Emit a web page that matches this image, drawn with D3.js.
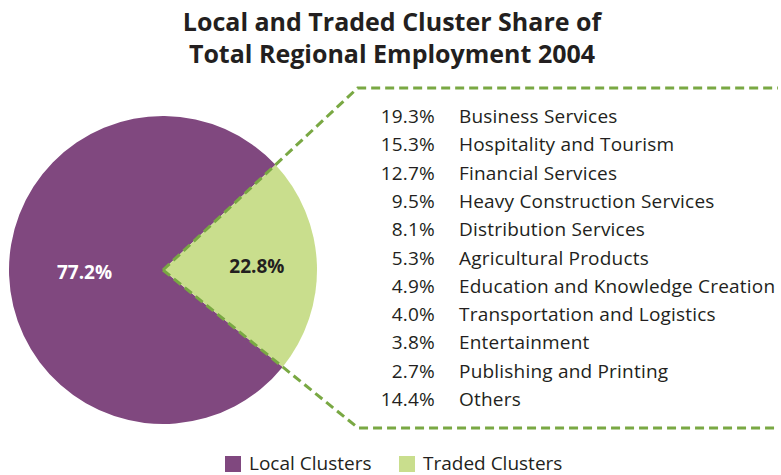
<!DOCTYPE html>
<html>
<head>
<meta charset="utf-8">
<script src="https://cdn.jsdelivr.net/npm/d3@7"></script>
<style>
  body { margin: 0; background: #fff; }
  text { font-family: "Open Sans", sans-serif; }
</style>
</head>
<body>
<script>
// Pie data
var pieLabels = ["Local Clusters", "Traded Clusters"];
var pieValues = [77.2, 22.8];

// Breakdown of the traded clusters
var clusterNames = [
  "Business Services", "Hospitality and Tourism", "Financial Services",
  "Heavy Construction Services", "Distribution Services", "Agricultural Products",
  "Education and Knowledge Creation", "Transportation and Logistics",
  "Entertainment", "Publishing and Printing", "Others"
];
var clusterShares = [19.3, 15.3, 12.7, 9.5, 8.1, 5.3, 4.9, 4.0, 3.8, 2.7, 14.4];

var titleLines = ["Local and Traded Cluster Share of", "Total Regional Employment 2004"];

var svgWidth = 781, svgHeight = 475;
var colors = d3.scaleOrdinal().domain(pieLabels).range(["#80487f", "#c9de8d"]);
var dashColor = "#79a843";

var svg = d3.select("body").append("svg")
  .attr("width", svgWidth)
  .attr("height", svgHeight);

// Title
svg.append("g").selectAll("text")
  .data(titleLines)
  .enter().append("text")
  .attr("x", 392)
  .attr("y", (d, i) => 31 + i * 32)
  .attr("text-anchor", "middle")
  .attr("font-size", "25px")
  .attr("font-weight", "bold")
  .attr("fill", "#231f20")
  .text(d => d);

// Pie
var cx = 163, cy = 270, radius = 154;
var startA = 129 * Math.PI / 180;
var pie = d3.pie().sort(null).startAngle(startA).endAngle(startA + 2 * Math.PI);
var arcs = pie(pieValues);
var arc = d3.arc().innerRadius(0).outerRadius(radius);

var pieGroup = svg.append("g").attr("transform", `translate(${cx}, ${cy})`);
pieGroup.selectAll("path")
  .data(arcs)
  .enter().append("path")
  .attr("d", arc)
  .attr("fill", (d, i) => colors(pieLabels[i]));

var labelArcs = [d3.arc().innerRadius(0).outerRadius(radius * 1.02),
                 d3.arc().innerRadius(0).outerRadius(radius * 1.22)];
pieGroup.selectAll("text")
  .data(arcs)
  .enter().append("text")
  .attr("transform", (d, i) => `translate(${labelArcs[i].centroid(d)})`)
  .attr("text-anchor", "middle")
  .attr("dy", "0.35em")
  .attr("font-size", "19px")
  .attr("font-weight", "bold")
  .attr("fill", (d, i) => i === 0 ? "#ffffff" : "#231f20")
  .text(d => d.value.toFixed(1) + "%");

// Dashed callout lines from the traded slice edges
var traded = arcs[1];
var topY = 88, bottomY = 428, rightX = 778;
function edgePoints(angle, yEnd) {
  var t = (yEnd - cy) / -Math.cos(angle);
  return [[cx, cy], [cx + t * Math.sin(angle), yEnd], [rightX, yEnd]];
}
var line = d3.line();
[[traded.startAngle, topY], [traded.endAngle, bottomY]].forEach(function(e) {
  svg.append("path")
    .attr("d", line(edgePoints(e[0], e[1])))
    .attr("fill", "none")
    .attr("stroke", dashColor)
    .attr("stroke-width", 3)
    .attr("stroke-dasharray", "9,5");
});

// List of traded clusters
var rowY = d3.scalePoint().domain(clusterNames).range([123, 406]);
var list = svg.append("g");
list.selectAll("text.share")
  .data(clusterNames)
  .enter().append("text")
  .attr("class", "share")
  .attr("x", 435)
  .attr("y", d => rowY(d))
  .attr("text-anchor", "end")
  .attr("font-size", "19px")
  .attr("letter-spacing", "0.2px")
  .attr("fill", "#231f20")
  .text((d, i) => clusterShares[i].toFixed(1) + "%");
list.selectAll("text.name")
  .data(clusterNames)
  .enter().append("text")
  .attr("class", "name")
  .attr("x", 459)
  .attr("y", d => rowY(d))
  .attr("font-size", "19px")
  .attr("letter-spacing", "0.2px")
  .attr("fill", "#231f20")
  .text(d => d);

// Legend
var legendX = [225, 399];
var legend = svg.append("g").selectAll("g")
  .data(pieLabels)
  .enter().append("g")
  .attr("transform", (d, i) => `translate(${legendX[i]}, 456)`);
legend.append("rect")
  .attr("width", 16).attr("height", 16)
  .attr("fill", d => colors(d));
legend.append("text")
  .attr("x", 24).attr("y", 14)
  .attr("font-size", "19px")
  .attr("fill", "#231f20")
  .text(d => d);
</script>
</body>
</html>
